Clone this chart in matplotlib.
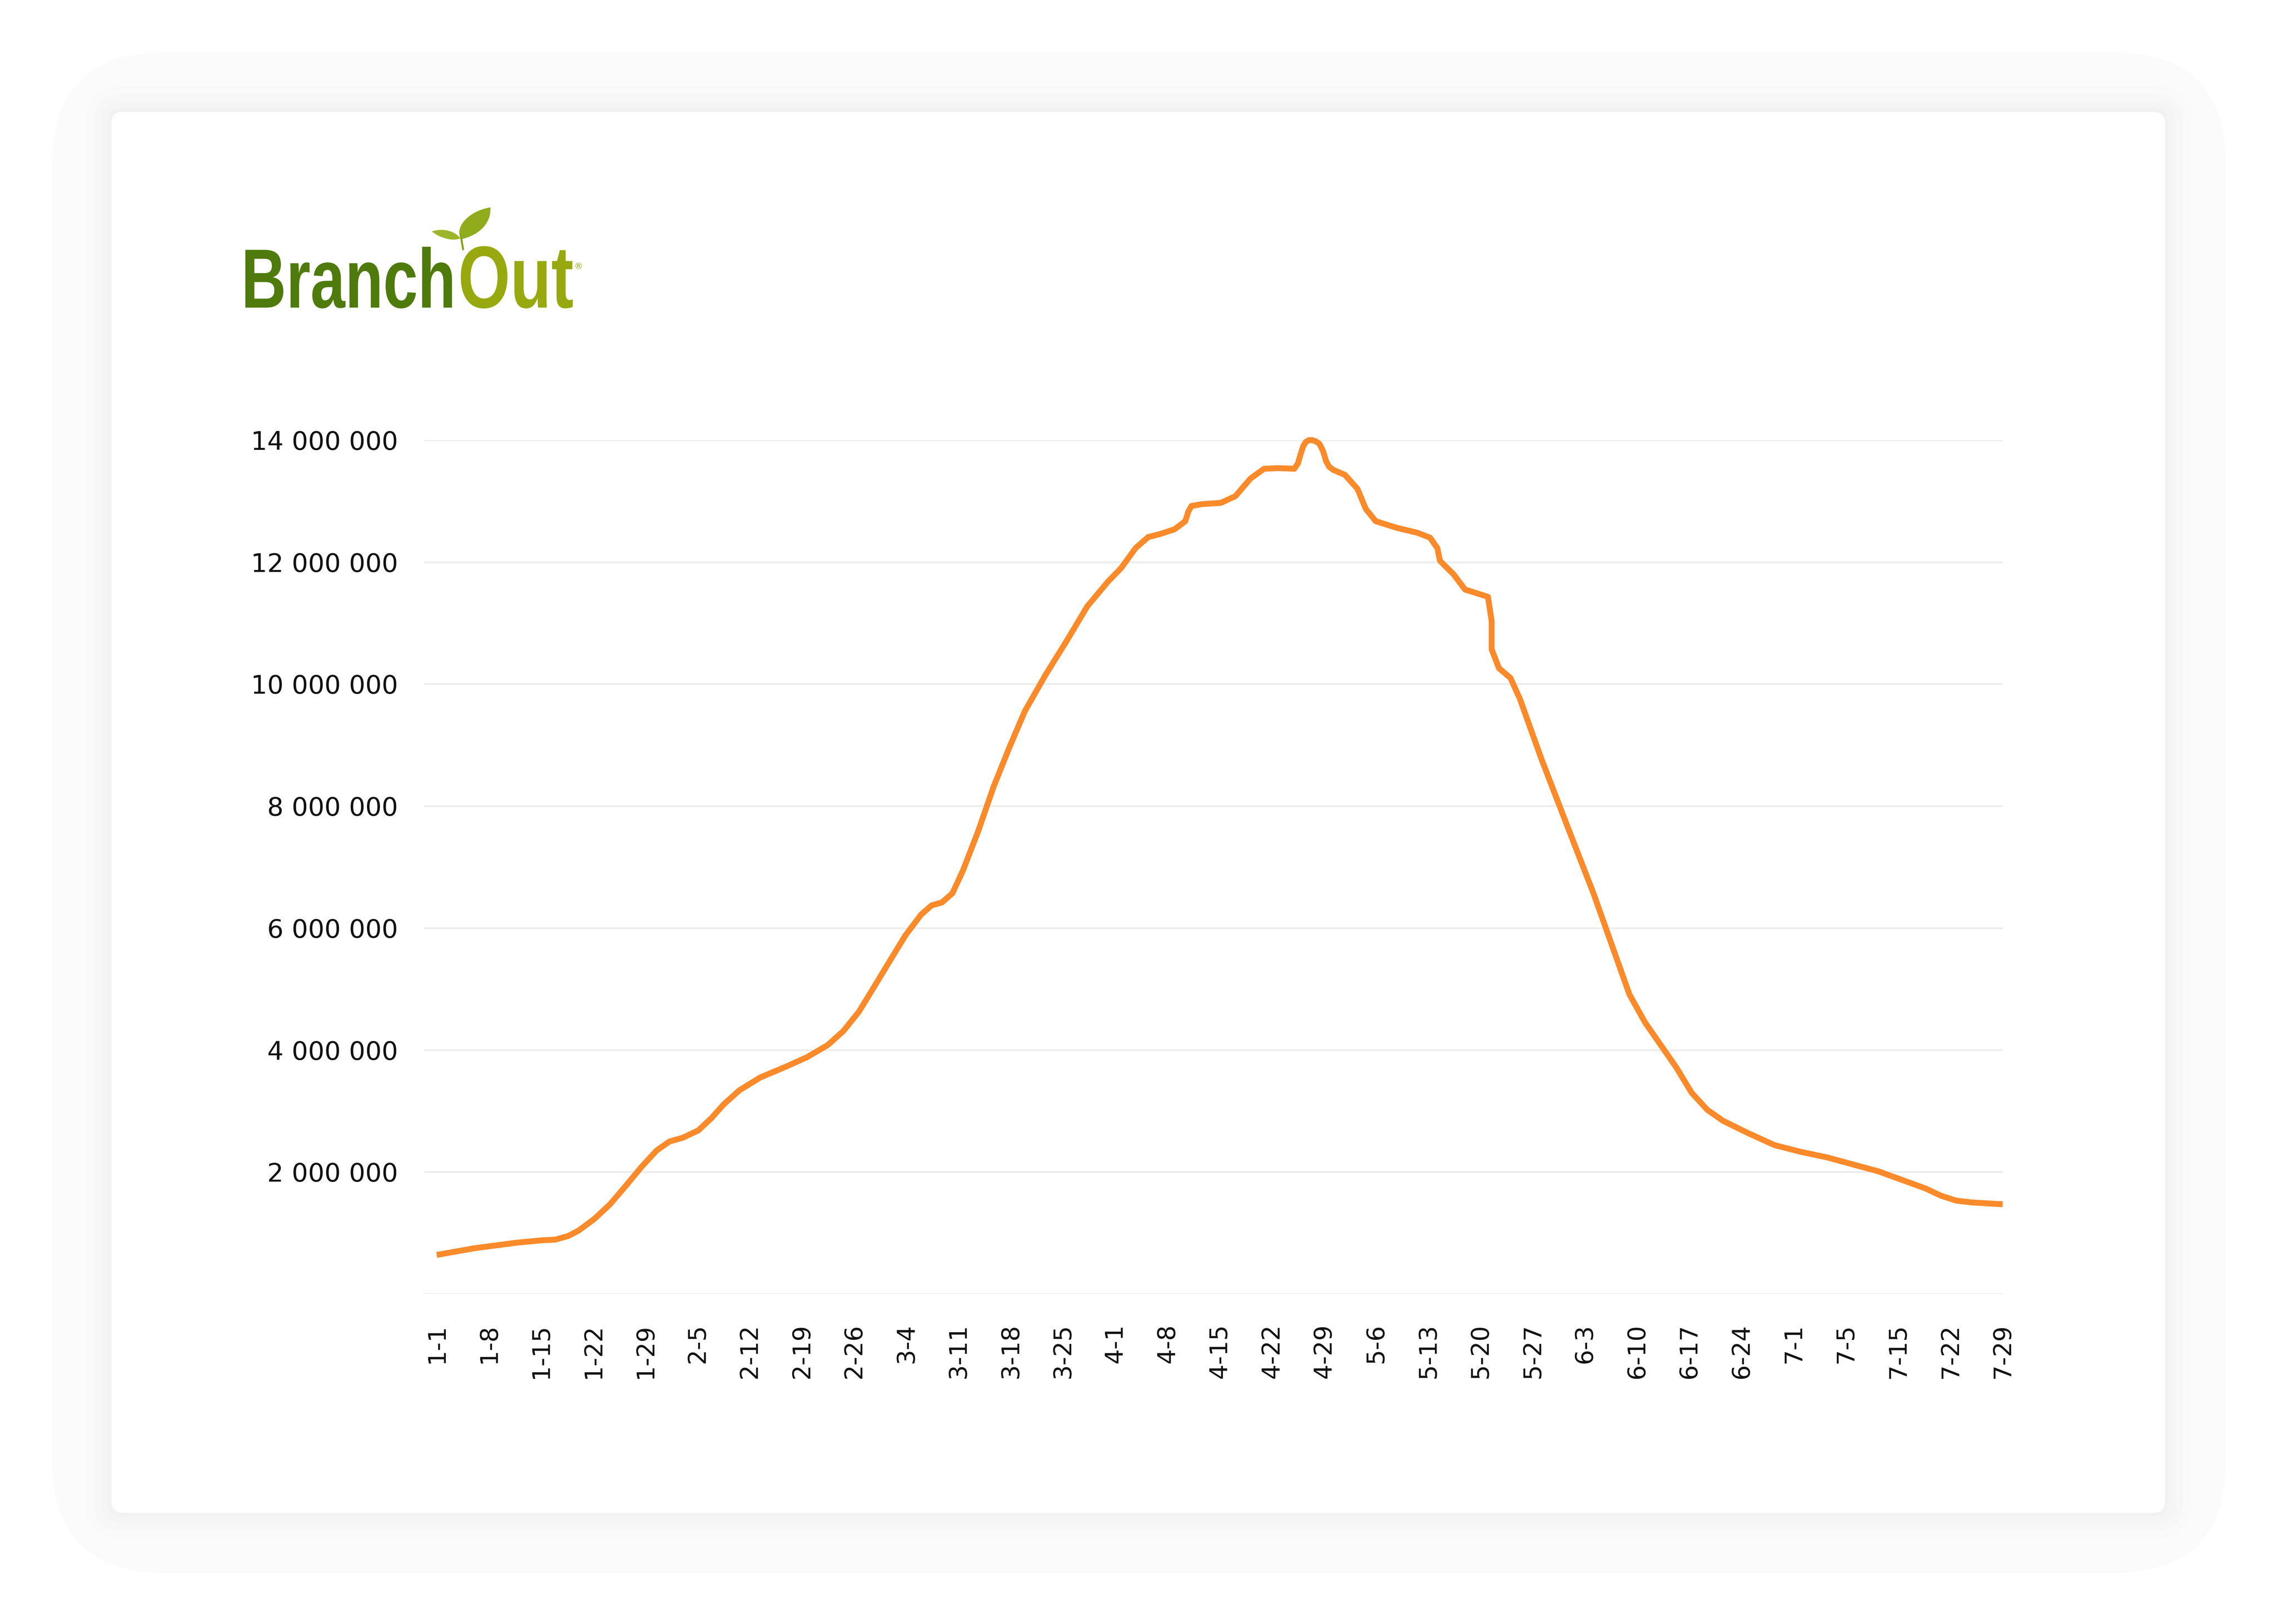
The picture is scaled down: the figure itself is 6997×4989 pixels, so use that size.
import matplotlib
matplotlib.use("Agg")
import matplotlib.pyplot as plt
from matplotlib.patches import FancyBboxPatch, PathPatch
from matplotlib.path import Path
from matplotlib.textpath import TextPath
from matplotlib.font_manager import FontProperties
from matplotlib.transforms import Affine2D
from matplotlib.ticker import FuncFormatter

# weekly category labels on the x axis
labels = ["1-1", "1-8", "1-15", "1-22", "1-29", "2-5", "2-12", "2-19", "2-26",
          "3-4", "3-11", "3-18", "3-25", "4-1", "4-8", "4-15", "4-22", "4-29",
          "5-6", "5-13", "5-20", "5-27", "6-3", "6-10", "6-17", "6-24",
          "7-1", "7-5", "7-15", "7-22", "7-29"]

# curve: position in weeks from 1-1, value in millions
weeks = [0.00, 0.73, 1.53, 2.02, 2.27, 2.52, 2.72, 3.02, 3.32, 3.61,
         3.91, 4.21, 4.46, 4.71, 5.01, 5.26, 5.50, 5.80, 6.20, 6.70,
         7.09, 7.49, 7.79, 8.09, 8.39, 8.68, 8.98, 9.28, 9.48, 9.68,
         9.88, 10.08, 10.37, 10.67, 10.97, 11.27, 11.67, 12.07, 12.46, 12.86,
         13.11, 13.39, 13.63, 13.86, 14.14, 14.34, 14.40, 14.46, 14.66, 15.02,
         15.30, 15.59, 15.85, 16.13, 16.43, 16.50, 16.55, 16.60, 16.65, 16.71,
         16.77, 16.84, 16.91, 16.98, 17.04, 17.10, 17.18, 17.40, 17.64, 17.80,
         17.99, 18.40, 18.79, 19.03, 19.17, 19.22, 19.48, 19.70, 20.14, 20.21,
         20.21, 20.35, 20.57, 20.75, 21.16, 21.66, 22.16, 22.85, 23.15, 23.45,
         23.75, 24.04, 24.34, 24.64, 25.14, 25.63, 26.13, 26.63, 27.62, 28.52,
         28.82, 29.11, 29.41, 30.00]
millions = [0.64, 0.75, 0.84, 0.88, 0.89, 0.95, 1.04, 1.23, 1.47, 1.76,
            2.07, 2.35, 2.50, 2.56, 2.68, 2.88, 3.11, 3.34, 3.55, 3.73,
            3.88, 4.08, 4.31, 4.63, 5.05, 5.46, 5.88, 6.22, 6.37, 6.42,
            6.57, 6.94, 7.58, 8.32, 8.96, 9.56, 10.16, 10.71, 11.27, 11.68,
            11.90, 12.23, 12.41, 12.46, 12.54, 12.67, 12.83, 12.92, 12.95, 12.97,
            13.08, 13.37, 13.53, 13.54, 13.53, 13.62, 13.77, 13.90, 13.97, 14.00,
            14.00, 13.98, 13.94, 13.82, 13.65, 13.56, 13.51, 13.43, 13.20, 12.87,
            12.67, 12.56, 12.48, 12.40, 12.23, 12.02, 11.80, 11.55, 11.43, 11.03,
            10.57, 10.26, 10.10, 9.76, 8.78, 7.67, 6.57, 4.91, 4.45, 4.08,
            3.71, 3.30, 3.02, 2.84, 2.63, 2.44, 2.33, 2.24, 2.01, 1.73,
            1.61, 1.53, 1.50, 1.47]
yticks = [0, 2_000_000, 4_000_000, 6_000_000, 8_000_000, 10_000_000, 12_000_000, 14_000_000]

W, H = 6997, 4989
fig = plt.figure(figsize=(W / 72, H / 72), dpi=72)
fig.patch.set_facecolor("white")

# background layer in pixel coordinates (origin top-left)
bg = fig.add_axes([0, 0, 1, 1], zorder=0)
bg.set_xlim(0, W)
bg.set_ylim(H, 0)
bg.axis("off")


def rbox(x0, y0, x1, y1, r, color):
    bg.add_patch(FancyBboxPatch((x0, y0), x1 - x0, y1 - y0,
                                boxstyle=f"round,pad=0,rounding_size={r}",
                                fc=color, ec="none"))


rbox(161, 161, 6840, 4832, 345, "#fbfbfb")
cx0, cy0, cx1, cy1 = 342, 344, 6653, 4647
for m, c in [(80, "#f9f9f9"), (55, "#f7f7f7"), (32, "#f5f5f5"), (12, "#f2f2f2")]:
    rbox(cx0 - m, cy0 - m, cx1 + m, cy1 + m, 36 + m, c)
rbox(cx0, cy0, cx1, cy1, 36, "white")

# logo
logo_font = FontProperties(family="Liberation Sans", weight="bold")


def word(s, x0, x1, ybase, ytop, color):
    tp = TextPath((0, 0), s, size=100, prop=logo_font)
    ext = tp.get_extents()
    sx = (x1 - x0) / ext.width
    sy = (ybase - ytop) / ext.y1
    tr = Affine2D().translate(-ext.x0, 0).scale(sx, -sy).translate(x0, ybase)
    bg.add_patch(PathPatch(tr.transform_path(tp), fc=color, ec="none"))


word("Branch", 754, 1389, 945, 758, "#4f7a0c")
word("Out", 1416, 1760, 945, 756, "#97a90f")
bg.text(1777, 820, "®", fontsize=26, color="#97a90f", ha="center", va="center")

leaf_big = Path([(1417, 735), (1395, 698), (1440, 648), (1507, 637),
                 (1510, 688), (1470, 723), (1417, 735), (1417, 735)],
                [Path.MOVETO, Path.CURVE4, Path.CURVE4, Path.CURVE4,
                 Path.CURVE4, Path.CURVE4, Path.CURVE4, Path.CLOSEPOLY])
leaf_small = Path([(1415, 732), (1395, 708), (1360, 700), (1327, 711),
                   (1350, 730), (1390, 743), (1415, 732), (1415, 732)],
                  [Path.MOVETO, Path.CURVE4, Path.CURVE4, Path.CURVE4,
                   Path.CURVE4, Path.CURVE4, Path.CURVE4, Path.CLOSEPOLY])
bg.add_patch(PathPatch(leaf_big, fc="#8fac1c", ec="none"))
bg.add_patch(PathPatch(leaf_small, fc="#9bb62a", ec="none"))
bg.plot([1423, 1416], [766, 724], color="#86a41a", lw=6, solid_capstyle="round")

# chart
left, right, top, bottom = 1304, 6154, 1352, 3975
ax = fig.add_axes([left / W, (H - bottom) / H, (right - left) / W, (bottom - top) / H], zorder=1)
ax.patch.set_alpha(0)
ax.plot(weeks, [v * 1e6 for v in millions], color="#fb8a2b", lw=18,
        solid_joinstyle="round", solid_capstyle="butt", clip_on=False, zorder=3)

ax.set_xlim(-38 / 160.4, 30)
ax.set_ylim(0, 14_000_000)
ax.set_xticks(range(len(labels)))
ax.set_xticklabels(labels, rotation=90, ha="center", va="top")
ax.set_yticks(yticks)
ax.yaxis.set_major_formatter(FuncFormatter(lambda v, p: "" if v == 0 else f"{int(v):,}".replace(",", " ")))
ax.tick_params(axis="y", length=0, pad=81, labelsize=79, labelcolor="#111111")
ax.tick_params(axis="x", length=0, pad=92, labelsize=74, labelcolor="#111111")
ax.grid(axis="y", color="#ebebeb", lw=5)
ax.set_axisbelow(True)
for s in ax.spines.values():
    s.set_visible(False)

fig.savefig("out.png", dpi=72, facecolor="white")
